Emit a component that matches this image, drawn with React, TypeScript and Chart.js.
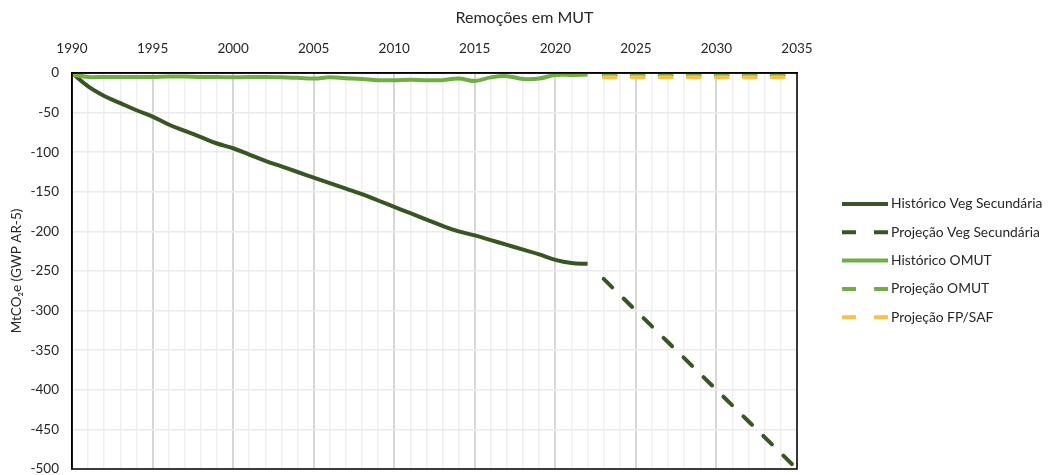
import { useEffect, useRef } from 'react';
import { Chart, registerables } from 'chart.js';

Chart.register(...registerables);

const chartTitle = 'Remoções em MUT';
const yAxisTitle = 'MtCO₂e (GWP AR-5)';

const histYears = [
  1990, 1991, 1992, 1993, 1994, 1995, 1996, 1997, 1998, 1999, 2000, 2001, 2002, 2003, 2004, 2005, 2006,
  2007, 2008, 2009, 2010, 2011, 2012, 2013, 2014, 2015, 2016, 2017, 2018, 2019, 2020, 2021, 2022,
];
const vegHist = [
  0, -17, -29, -38, -47, -55, -65, -73, -81, -89, -95, -103, -111, -118, -125, -132, -139, -146, -153,
  -161, -169, -177, -185, -193, -200, -205, -211, -217, -223, -229, -236, -240, -241,
];
const omutHist = [
  -2, -5, -5, -5, -5, -5, -4.5, -4.5, -5, -5, -5.5, -5, -5, -5.5, -6, -7, -5.5, -6.5, -7.5, -9, -9, -8.5,
  -9, -9, -7, -10, -5.5, -4, -7.5, -7, -2.5, -2.5, -2,
];

const projYears = [2023, 2024, 2025, 2026, 2027, 2028, 2029, 2030, 2031, 2032, 2033, 2034, 2035];
const vegProj = [-260, -280, -300, -320, -340, -360, -380, -400, -420, -440, -460, -480, -500];
const omutProj = [-3, -3, -3, -3, -3, -3, -3, -3, -3, -3, -3, -3, -3];
const fpsafProj = [-5.5, -5.5, -5.5, -5.5, -5.5, -5.5, -5.5, -5.5, -5.5, -5.5, -5.5, -5.5, -5.5];

const seriesLabels = [
  'Histórico Veg Secundária',
  'Projeção Veg Secundária',
  'Histórico OMUT',
  'Projeção OMUT',
  'Projeção FP/SAF',
];

const xMin = 1990;
const xMax = 2035;
const yMin = -500;
const yMax = 0;
const yStep = 50;

const DARK_GREEN = '#375623';
const LIGHT_GREEN = '#70AD47';
const YELLOW = '#F9C04A';
const FONT = 'Lato';

const pts = (xs: number[], ys: number[]) => xs.map((x, i) => ({ x, y: ys[i] }));

const titlePlugin = {
  id: 'customTitle',
  afterDraw(chart: any) {
    const { ctx } = chart;
    ctx.save();
    ctx.font = `16px ${FONT}`;
    ctx.fillStyle = '#262626';
    ctx.textAlign = 'center';
    ctx.textBaseline = 'middle';
    ctx.fillText(chartTitle, chart.width / 2, 18);
    ctx.restore();
  },
};

const framePlugin = {
  id: 'frame',
  afterDatasetsDraw(chart: any) {
    const { ctx, chartArea } = chart;
    ctx.save();
    ctx.strokeStyle = '#000';
    ctx.lineWidth = 1.5;
    ctx.strokeRect(chartArea.left, chartArea.top, chartArea.right - chartArea.left, chartArea.bottom - chartArea.top);
    ctx.restore();
  },
};

const legendPlugin = {
  id: 'customLegend',
  afterDraw(chart: any) {
    const { ctx } = chart;
    const x0 = 842;
    const x1 = 888;
    const y0 = 204;
    const dy = 28.3;
    ctx.save();
    ctx.font = `13.8px ${FONT}`;
    ctx.textAlign = 'left';
    ctx.textBaseline = 'middle';
    chart.data.datasets.forEach((ds: any, i: number) => {
      const y = y0 + i * dy;
      ctx.strokeStyle = ds.borderColor;
      ctx.lineWidth = 4;
      ctx.lineCap = 'butt';
      ctx.setLineDash(ds.borderDash ? [14, 18] : []);
      ctx.beginPath();
      ctx.moveTo(x0, y);
      ctx.lineTo(x1, y);
      ctx.stroke();
      ctx.setLineDash([]);
      ctx.fillStyle = '#262626';
      ctx.fillText(ds.label, x1 + 3, y);
    });
    ctx.restore();
  },
};

export default function App() {
  const canvasRef = useRef<HTMLCanvasElement | null>(null);

  useEffect(() => {
    document.body.style.margin = '0';
    const canvas = canvasRef.current;
    if (!canvas) return;
    Chart.defaults.font.family = FONT;
    const dash = [12, 16];
    const chart = new Chart(canvas, {
      type: 'line',
      data: {
        datasets: [
          {
            label: seriesLabels[0],
            data: pts(histYears, vegHist),
            borderColor: DARK_GREEN,
            borderWidth: 4,
            pointRadius: 0,
            tension: 0.4,
            order: 3,
          },
          {
            label: seriesLabels[1],
            data: pts(projYears, vegProj),
            borderColor: DARK_GREEN,
            borderWidth: 4,
            borderDash: dash,
            borderCapStyle: 'round',
            pointRadius: 0,
            order: 4,
          },
          {
            label: seriesLabels[2],
            data: pts(histYears, omutHist),
            borderColor: LIGHT_GREEN,
            borderWidth: 4,
            pointRadius: 0,
            tension: 0.4,
            order: 2,
          },
          {
            label: seriesLabels[3],
            data: pts(projYears, omutProj),
            borderColor: LIGHT_GREEN,
            borderWidth: 4,
            borderDash: dash,
            borderCapStyle: 'round',
            pointRadius: 0,
            order: 1,
          },
          {
            label: seriesLabels[4],
            data: pts(projYears, fpsafProj),
            borderColor: YELLOW,
            borderWidth: 4,
            borderDash: dash,
            borderCapStyle: 'round',
            pointRadius: 0,
            order: 0,
          },
        ] as any,
      },
      options: {
        responsive: false,
        animation: false,
        devicePixelRatio: 1,
        layout: { autoPadding: false, padding: { left: 0, top: 0, right: 252, bottom: 6 } },
        plugins: {
          legend: { display: false },
          title: { display: false },
          tooltip: { enabled: false },
        },
        scales: {
          x: {
            type: 'linear',
            position: 'top',
            min: xMin,
            max: xMax,
            afterFit: (scale: any) => {
              scale.height = 73;
              scale.paddingLeft = 0;
              scale.paddingRight = 0;
              scale.paddingTop = 0;
              scale.paddingBottom = 0;
            },
            ticks: {
              stepSize: 1,
              autoSkip: false,
              maxRotation: 0,
              padding: 16,
              color: '#262626',
              font: { size: 13.5, family: FONT },
              callback: (v: any) => (Number(v) % 5 === 0 ? String(v) : ''),
            },
            grid: {
              drawTicks: false,
              color: (c: any) => (c.tick && c.tick.value % 5 === 0 ? '#d6d6d6' : '#efefef'),
              lineWidth: (c: any) => (c.tick && c.tick.value % 5 === 0 ? 2 : 1.5),
            },
            border: { display: true, color: '#000', width: 1.5 },
          },
          y: {
            type: 'linear',
            min: yMin,
            max: yMax,
            afterFit: (scale: any) => {
              scale.width = 72;
              scale.paddingTop = 0;
              scale.paddingBottom = 0;
              scale.paddingLeft = 0;
              scale.paddingRight = 0;
            },
            ticks: {
              stepSize: yStep,
              padding: 13,
              color: '#262626',
              font: { size: 13.5, family: FONT },
              callback: (v: any) => String(v),
            },
            grid: { drawTicks: false, color: '#ebebeb', lineWidth: 1.5 },
            border: { display: true, color: '#000', width: 1.5 },
            title: {
              display: true,
              text: yAxisTitle,
              color: '#262626',
              font: { size: 13.5, family: FONT },
              padding: { top: 9, bottom: 0 },
            },
          },
        },
      } as any,
      plugins: [titlePlugin, framePlugin, legendPlugin],
    });
    return () => chart.destroy();
  }, []);

  return (
    <div style={{ width: 1049, height: 475 }}>
      <canvas ref={canvasRef} width={1049} height={475} style={{ width: 1049, height: 475, display: 'block' }} />
    </div>
  );
}
